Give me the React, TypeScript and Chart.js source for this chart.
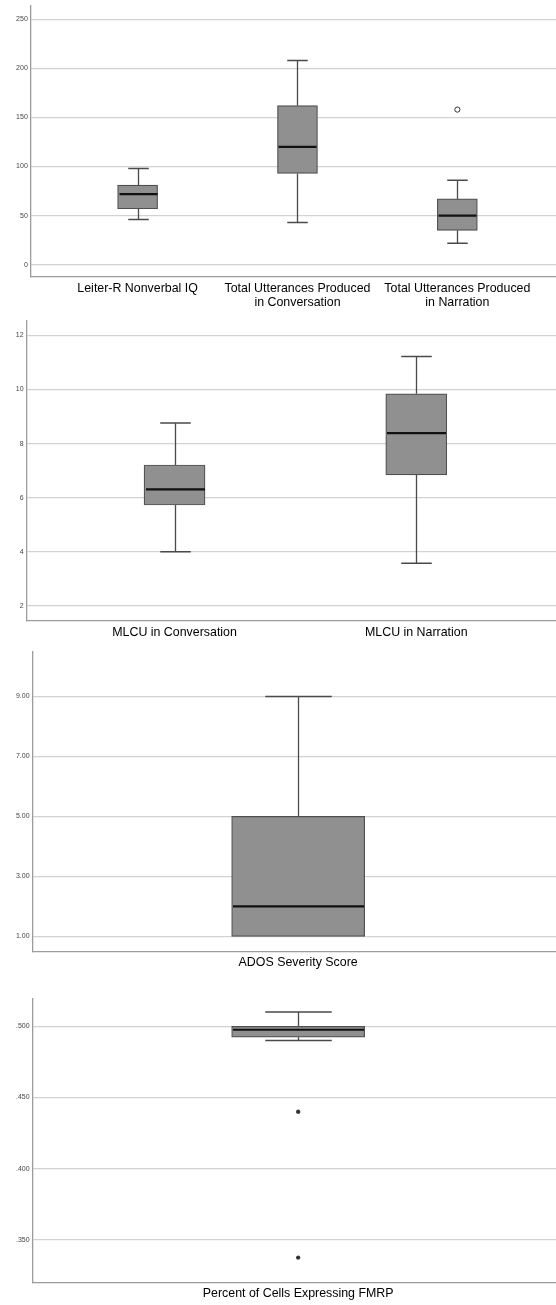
import React, { useEffect, useRef } from 'react';
import { Chart, registerables } from 'chart.js';

Chart.register(...registerables);

// ---------- Panel 1 ----------
const p1Categories: string[][] = [
  ['Leiter-R Nonverbal IQ'],
  ['Total Utterances Produced', 'in Conversation'],
  ['Total Utterances Produced', 'in Narration'],
];
const p1Min = [46, 43, 22];
const p1Q1 = [57, 93, 35];
const p1Median = [72, 120, 50];
const p1Q3 = [81, 162, 67];
const p1Max = [98, 208, 86];
const p1OutlierIndex = [2];
const p1OutlierValue = [158];
const p1Ticks = [0, 50, 100, 150, 200, 250];

// ---------- Panel 2 ----------
const p2Categories: string[][] = [['MLCU in Conversation'], ['MLCU in Narration']];
const p2Min = [4.0, 3.58];
const p2Q1 = [5.73, 6.84];
const p2Median = [6.31, 8.39];
const p2Q3 = [7.21, 9.84];
const p2Max = [8.76, 11.22];
const p2Ticks = [2, 4, 6, 8, 10, 12];

// ---------- Panel 3 ----------
const p3Categories: string[][] = [['ADOS Severity Score']];
const p3Min = [1];
const p3Q1 = [1];
const p3Median = [2];
const p3Q3 = [5];
const p3Max = [9];
const p3Ticks = [1, 3, 5, 7, 9];

// ---------- Panel 4 ----------
const p4Categories: string[][] = [['Percent of Cells Expressing FMRP']];
const p4Min = [0.4900];
const p4Q1 = [0.4924];
const p4Median = [0.4976];
const p4Q3 = [0.5];
const p4Max = [0.5100];
const p4ExtremeIndex = [0, 0];
const p4ExtremeValue = [0.440, 0.3376];
const p4Ticks = [0.35, 0.4, 0.45, 0.5];

type PanelSpec = {
  top: number;
  height: number;
  plotTop: number;
  plotBottom: number;
  axisX: number;
  xMin: number;
  xMax: number;
  yMin: number;
  yMax: number;
  boxWidth: number;
  capWidth: number;
  categories: string[][];
  min: number[];
  q1: number[];
  median: number[];
  q3: number[];
  max: number[];
  ticks: number[];
  tickFormat: (v: number) => string;
  outIdx?: number[];
  outVal?: number[];
  outStyle?: 'circle' | 'star';
};

const WIDTH = 556;

const boxPlugin = {
  id: 'boxWhiskers',
  afterDatasetsDraw(chart: any, _args: any, opts: any) {
    const { ctx, scales } = chart;
    const xs = scales.x;
    const ys = scales.y;
    const spec: PanelSpec = opts.spec;
    if (!spec) return;
    ctx.save();
    spec.q1.forEach((_q: number, i: number) => {
      const cx = Math.round(xs.getPixelForValue(i)) + 0.5;
      const yMax = ys.getPixelForValue(spec.max[i]);
      const yQ3 = ys.getPixelForValue(spec.q3[i]);
      const yQ1 = ys.getPixelForValue(spec.q1[i]);
      const yMin = ys.getPixelForValue(spec.min[i]);
      const yMed = ys.getPixelForValue(spec.median[i]);
      const half = spec.capWidth / 2;
      const boxHalf = spec.boxWidth / 2;
      ctx.strokeStyle = '#4a4a4a';
      ctx.lineWidth = 1.3;
      ctx.beginPath();
      if (spec.max[i] > spec.q3[i]) {
        ctx.moveTo(cx, yQ3);
        ctx.lineTo(cx, yMax);
      }
      if (spec.min[i] < spec.q1[i]) {
        ctx.moveTo(cx, yQ1);
        ctx.lineTo(cx, yMin);
      }
      ctx.stroke();
      ctx.lineWidth = 1.5;
      ctx.beginPath();
      ctx.moveTo(cx - half, yMax);
      ctx.lineTo(cx + half, yMax);
      if (spec.min[i] < spec.q1[i]) {
        ctx.moveTo(cx - half, yMin);
        ctx.lineTo(cx + half, yMin);
      }
      ctx.stroke();
      ctx.strokeStyle = '#111';
      ctx.lineWidth = 2.2;
      ctx.beginPath();
      ctx.moveTo(cx - boxHalf + 1, yMed);
      ctx.lineTo(cx + boxHalf - 1, yMed);
      ctx.stroke();
    });
    ctx.restore();
  },
};

function Panel({ spec }: { spec: PanelSpec }) {
  const ref = useRef<HTMLCanvasElement | null>(null);
  useEffect(() => {
    if (!ref.current) return;
    const datasets: any[] = [
      {
        type: 'bar',
        data: spec.q1.map((q, i) => ({ x: i, y: [q, spec.q3[i]] })),
        backgroundColor: '#909090',
        borderColor: '#4f4f4f',
        borderWidth: 1.2,
        borderSkipped: false,
        barThickness: spec.boxWidth,
        grouped: false,
      },
    ];
    if (spec.outIdx && spec.outVal) {
      datasets.push({
        type: 'scatter',
        data: spec.outIdx.map((ix, k) => ({ x: ix, y: spec.outVal![k] })),
        pointStyle: spec.outStyle === 'star' ? 'star' : 'circle',
        pointRadius: spec.outStyle === 'star' ? 2.2 : 2.6,
        backgroundColor: '#ffffff',
        borderColor: '#333333',
        pointBorderWidth: spec.outStyle === 'star' ? 1.2 : 1,
      });
    }
    const chart = new Chart(ref.current, {
      type: 'bar',
      data: { datasets },
      plugins: [boxPlugin],
      options: {
        animation: false,
        responsive: false,
        maintainAspectRatio: false,
        layout: { autoPadding: false, padding: { top: spec.plotTop, left: 0, right: 0, bottom: 0 } },
        plugins: {
          legend: { display: false },
          tooltip: { enabled: false },
          boxWhiskers: { spec },
        } as any,
        scales: {
          x: {
            type: 'linear',
            offset: false,
            min: spec.xMin,
            max: spec.xMax,
            grid: { display: false, drawTicks: false, offset: false },
            border: { display: true, color: '#9c9c9c', width: 1.3 },
            afterBuildTicks: (scale: any) => {
              scale.ticks = spec.categories.map((_c, i) => ({ value: i }));
            },
            afterFit: (scale: any) => {
              scale.height = spec.height - spec.plotBottom;
              scale.paddingLeft = 0;
              scale.paddingRight = 0;
            },
            ticks: {
              autoSkip: false,
              maxRotation: 0,
              minRotation: 0,
              padding: 4,
              color: '#000',
              font: { family: '"Liberation Sans", Arial, sans-serif', size: 12.4, lineHeight: 1.15 },
              callback: (v: any) => spec.categories[Math.round(Number(v))] ?? '',
            },
          },
          y: {
            type: 'linear',
            min: spec.yMin,
            max: spec.yMax,
            grid: { display: true, color: '#d2d2d2', lineWidth: 1.2, drawTicks: false },
            border: { display: true, color: '#9c9c9c', width: 1.3 },
            afterBuildTicks: (scale: any) => {
              scale.ticks = spec.ticks.map((v) => ({ value: v }));
            },
            afterFit: (scale: any) => {
              scale.width = spec.axisX;
              scale.paddingTop = 0;
              scale.paddingBottom = 0;
            },
            ticks: {
              padding: 3,
              color: '#444',
              font: { family: '"Liberation Sans", Arial, sans-serif', size: 7 },
              callback: (v: any) => spec.tickFormat(Number(v)),
            },
          },
        },
      } as any,
    });
    return () => chart.destroy();
  }, [spec]);
  return (
    <canvas
      ref={ref}
      width={WIDTH}
      height={spec.height}
      style={{ position: 'absolute', left: 0, top: spec.top, width: WIDTH, height: spec.height, display: 'block' }}
    />
  );
}

const panels: PanelSpec[] = [
  {
    top: 0, height: 310, plotTop: 6, plotBottom: 277, axisX: 30.8,
    xMin: -0.668, xMax: 2.617, yMin: -12.5, yMax: 263.5, boxWidth: 40, capWidth: 20.5,
    categories: p1Categories, min: p1Min, q1: p1Q1, median: p1Median, q3: p1Q3, max: p1Max,
    ticks: p1Ticks, tickFormat: (v) => String(Math.round(v)),
    outIdx: p1OutlierIndex, outVal: p1OutlierValue, outStyle: 'circle',
  },
  {
    top: 310, height: 330, plotTop: 10.7, plotBottom: 311, axisX: 26.6,
    xMin: -0.612, xMax: 1.578, yMin: 1.446, yMax: 12.54, boxWidth: 61, capWidth: 30.5,
    categories: p2Categories, min: p2Min, q1: p2Q1, median: p2Median, q3: p2Q3, max: p2Max,
    ticks: p2Ticks, tickFormat: (v) => String(Math.round(v)),
  },
  {
    top: 640, height: 335, plotTop: 11.7, plotBottom: 311.7, axisX: 32.6,
    xMin: -1, xMax: 0.971, yMin: 0.489, yMax: 10.49, boxWidth: 133, capWidth: 66.5,
    categories: p3Categories, min: p3Min, q1: p3Q1, median: p3Median, q3: p3Q3, max: p3Max,
    ticks: p3Ticks, tickFormat: (v) => v.toFixed(2),
  },
  {
    top: 975, height: 330, plotTop: 23.3, plotBottom: 307.7, axisX: 32.6,
    xMin: -1, xMax: 0.971, yMin: 0.32, yMax: 0.5197, boxWidth: 133, capWidth: 66.5,
    categories: p4Categories, min: p4Min, q1: p4Q1, median: p4Median, q3: p4Q3, max: p4Max,
    ticks: p4Ticks, tickFormat: (v) => v.toFixed(3).replace(/^0/, ''),
    outIdx: p4ExtremeIndex, outVal: p4ExtremeValue, outStyle: 'star',
  },
];

export default function App() {
  return (
    <div style={{ position: 'absolute', left: 0, top: 0, width: WIDTH, height: 1305, background: '#fff' }}>
      {panels.map((p, i) => (
        <Panel key={i} spec={p} />
      ))}
    </div>
  );
}
